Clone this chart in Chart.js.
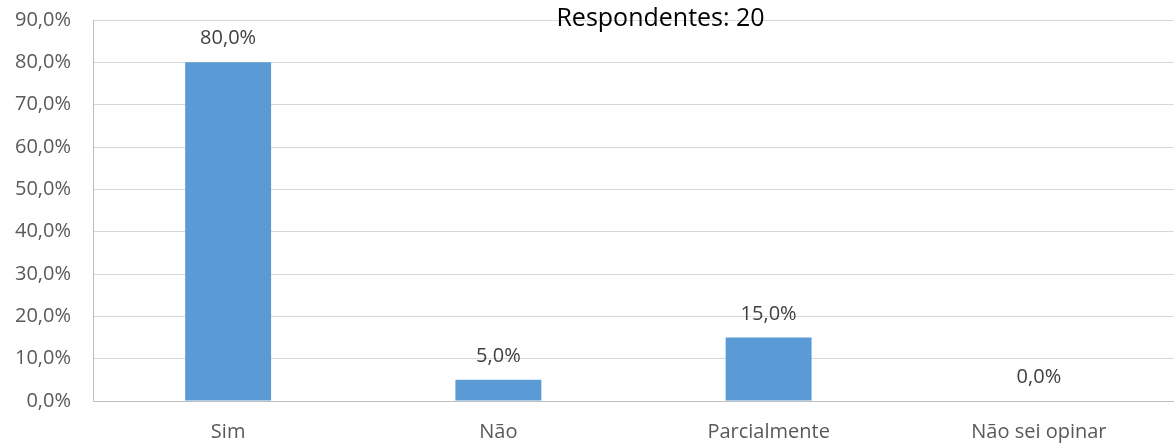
<!DOCTYPE html>
<html>
<head>
<meta charset="utf-8">
<style>
  html, body { margin: 0; padding: 0; background: #ffffff; }
  #wrap { width: 1174px; height: 444px; position: relative; }
</style>
<script src="https://cdn.jsdelivr.net/npm/chart.js@4/dist/chart.umd.min.js"></script>
</head>
<body>
<div id="wrap"><canvas id="chart"></canvas></div>
<script>
const categories = ['Sim', 'Não', 'Parcialmente', 'Não sei opinar'];
const percentages = [80.0, 5.0, 15.0, 0.0];
const yTickValues = [0, 10, 20, 30, 40, 50, 60, 70, 80, 90];
const titleText = 'Respondentes: 20';

const fmt = v => v.toFixed(1).replace('.', ',') + '%';
const FONT = "'Open Sans', 'Noto Sans', sans-serif";

// Value labels above each bar
const valueLabels = {
  id: 'valueLabels',
  afterDatasetsDraw(chart) {
    const ctx = chart.ctx;
    const meta = chart.getDatasetMeta(0);
    ctx.save();
    ctx.font = '20px ' + FONT;
    ctx.fillStyle = '#404040';
    ctx.textAlign = 'center';
    ctx.textBaseline = 'alphabetic';
    meta.data.forEach((bar, i) => {
      ctx.fillText(fmt(percentages[i]), bar.x, bar.y - 18);
    });
    ctx.restore();
  }
};

// Heading sitting on the top grid line
const heading = {
  id: 'heading',
  afterDraw(chart) {
    const ctx = chart.ctx;
    const area = chart.chartArea;
    ctx.save();
    ctx.font = '25px ' + FONT;
    ctx.fillStyle = '#000000';
    ctx.textAlign = 'center';
    ctx.textBaseline = 'alphabetic';
    ctx.fillText(titleText, area.left + (area.right - area.left) * 0.525, area.top + 6);
    ctx.restore();
  }
};

new Chart(document.getElementById('chart'), {
  type: 'bar',
  data: {
    labels: categories,
    datasets: [{
      data: percentages,
      backgroundColor: '#5b9bd5',
      borderWidth: 0,
      categoryPercentage: 1.0,
      barPercentage: 0.318
    }]
  },
  options: {
    responsive: true,
    maintainAspectRatio: false,
    animation: false,
    layout: { padding: { top: 20, right: 0, left: 0, bottom: 0 } },
    plugins: { legend: { display: false }, tooltip: { enabled: false }, title: { display: false } },
    scales: {
      x: {
        grid: { display: false, drawTicks: false },
        border: { color: '#bfbfbf', width: 1 },
        ticks: { color: '#595959', font: { size: 20, family: FONT }, padding: 19 },
        afterFit(scale) { scale.height = 43; scale.paddingLeft = 0; scale.paddingRight = 0; }
      },
      y: {
        min: 0,
        max: 90,
        afterBuildTicks(scale) { scale.ticks = yTickValues.map(v => ({ value: v })); },
        grid: { color: '#d9d9d9', lineWidth: 1, drawTicks: false },
        border: { color: '#bfbfbf', width: 1 },
        ticks: { color: '#595959', font: { size: 20, family: FONT }, padding: 22, callback: v => fmt(v) },
        afterFit(scale) { scale.width = 93; scale.paddingTop = 0; scale.paddingBottom = 0; }
      }
    }
  },
  plugins: [valueLabels, heading]
});
</script>
</body>
</html>
